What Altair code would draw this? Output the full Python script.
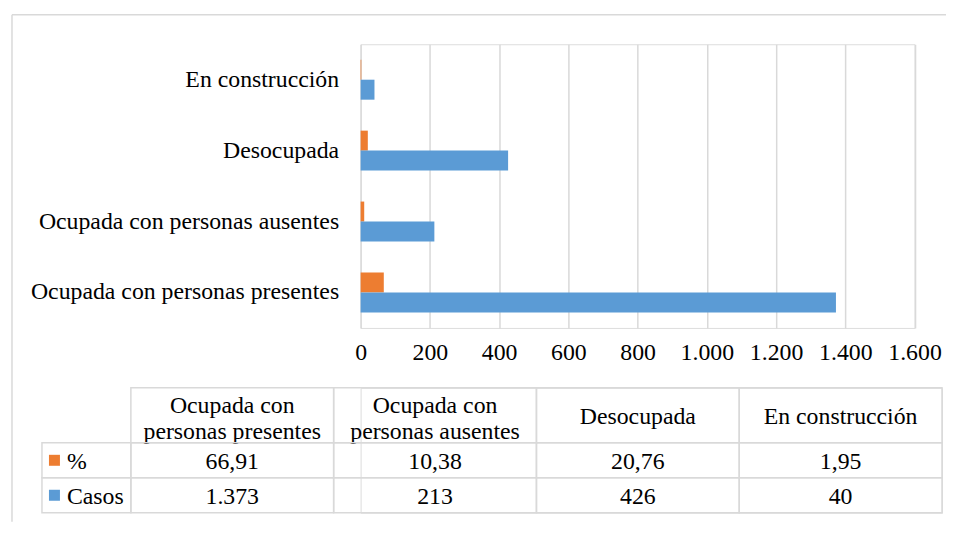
import altair as alt
import pandas as pd

# ---- data -------------------------------------------------------------
categories = [
    "Ocupada con personas presentes",
    "Ocupada con personas ausentes",
    "Desocupada",
    "En construcción",
]
header_labels = [
    "Ocupada con\npersonas presentes",
    "Ocupada con\npersonas ausentes",
    "Desocupada",
    "En construcción",
]
pct = [66.91, 10.38, 20.76, 1.95]
casos = [1373, 213, 426, 40]
series = ["%", "Casos"]
colors = ["#ED7D31", "#5B9BD5"]
x_ticks = [0, 200, 400, 600, 800, 1000, 1200, 1400, 1600]

FONT = "Liberation Serif, DejaVu Serif"
FS = 23.8
GRID = "#D9D9D9"
TXT = "#000000"

pct_txt = [f"{v:.2f}".replace(".", ",") for v in pct]
casos_txt = [f"{v:,}".replace(",", ".") for v in casos]

bars_df = pd.DataFrame({
    "cat": categories * 2,
    "serie": ["%"] * len(categories) + ["Casos"] * len(categories),
    "valor": pct + casos,
})
header_df = pd.DataFrame({"cat": categories, "texto": header_labels, "fila": ["h"] * len(categories)})
body_df = pd.DataFrame({
    "cat": categories * 2,
    "fila": ["%"] * len(categories) + ["Casos"] * len(categories),
    "texto": pct_txt + casos_txt,
})
label_df = pd.DataFrame({"col": ["lab"] * len(series), "fila": series})
frame_df = pd.DataFrame({"k": [0]})

# ---- bar chart --------------------------------------------------------
y_order = list(reversed(categories))

bars = alt.Chart(bars_df).mark_bar().encode(
    x=alt.X(
        "valor:Q",
        scale=alt.Scale(domain=[0, 1600], nice=False),
        axis=alt.Axis(
            values=x_ticks, title=None, grid=True, gridColor=GRID, gridWidth=1.5,
            domain=False, ticks=False, labelFont=FONT, labelFontSize=FS,
            labelColor=TXT, labelPadding=13, labelFlush=False,
            labelExpr="replace(format(datum.value, ','), ',', '.')",
        ),
    ),
    y=alt.Y(
        "cat:N", sort=y_order,
        scale=alt.Scale(paddingInner=0.4366, paddingOuter=0.2183),
        axis=alt.Axis(
            title=None, domain=False, ticks=False, labelFont=FONT, labelFontSize=FS,
            labelColor=TXT, labelPadding=22, labelLimit=0,
        ),
    ),
    yOffset=alt.YOffset("serie:N", sort=series),
    color=alt.Color("serie:N", scale=alt.Scale(domain=series, range=colors), legend=None),
)

frame_top = alt.Chart(frame_df).mark_rule(color=GRID, strokeWidth=1.5).encode(
    x=alt.value(-349), x2=alt.value(586), y=alt.value(-29.5)
)
frame_left = alt.Chart(frame_df).mark_rule(color=GRID, strokeWidth=1.5).encode(
    x=alt.value(-349), y=alt.value(-29.5), y2=alt.value(478)
)

bar_chart = alt.layer(frame_top, frame_left, bars).properties(width=554.5, height=284)

# ---- data table -------------------------------------------------------
def xcat():
    return alt.X(
        "cat:N", sort=categories,
        scale=alt.Scale(domain=categories, range=[-230, 582], paddingInner=0, paddingOuter=0),
        axis=None,
    )

def xlab():
    return alt.X(
        "col:N",
        scale=alt.Scale(domain=["lab"], range=[-319, -230], paddingInner=0, paddingOuter=0),
        axis=None,
    )

yhead = alt.Y("fila:N", scale=alt.Scale(domain=["h"], range=[0, 55], paddingInner=0, paddingOuter=0), axis=None)
ybody = alt.Y("fila:N", sort=series, scale=alt.Scale(domain=series, range=[55, 125], paddingInner=0, paddingOuter=0), axis=None)

cell = dict(fillOpacity=0, stroke=GRID, strokeWidth=1.5)
txt = dict(font=FONT, fontSize=FS, color=TXT)

header_rect = alt.Chart(header_df).mark_rect(**cell).encode(x=xcat(), y=yhead)
header_text2 = alt.Chart(header_df).transform_filter(
    "indexof(datum.texto, '\\n') >= 0"
).mark_text(lineBreak="\n", lineHeight=26, dy=-9.5, **txt).encode(x=xcat(), y=yhead, text="texto:N")
header_text1 = alt.Chart(header_df).transform_filter(
    "indexof(datum.texto, '\\n') < 0"
).mark_text(dy=1.5, **txt).encode(x=xcat(), y=yhead, text="texto:N")

body_rect = alt.Chart(body_df).mark_rect(**cell).encode(x=xcat(), y=ybody)
body_text = alt.Chart(body_df).mark_text(dy=1.5, **txt).encode(x=xcat(), y=ybody, text="texto:N")

label_rect = alt.Chart(label_df).mark_rect(**cell).encode(x=xlab(), y=ybody)
label_text = alt.Chart(label_df).mark_text(align="left", dx=-19.5, dy=1.5, **txt).encode(
    x=xlab(), y=ybody, text="fila:N"
)
label_swatch = alt.Chart(label_df).mark_rect(opacity=1).encode(
    x=alt.X("col:N", scale=alt.Scale(domain=["lab"], range=[-312, -301], paddingInner=0, paddingOuter=0), axis=None),
    y=alt.Y("fila:N", sort=series,
            scale=alt.Scale(domain=series, range=[55, 125], paddingInner=0.686, paddingOuter=0.343),
            axis=None),
    color=alt.Color("fila:N", scale=alt.Scale(domain=series, range=colors), legend=None),
)

table = alt.layer(
    header_rect, header_text2, header_text1, body_rect, body_text,
    label_rect, label_text, label_swatch,
).resolve_scale(x="independent", y="independent", color="independent").properties(width=582, height=125)

chart = alt.vconcat(bar_chart, table, spacing=60, bounds="flush").properties(
    padding={"left": 2, "top": 5, "right": 0, "bottom": 0},
    background="#ffffff",
).configure_view(strokeWidth=0).configure(font=FONT)

chart.save("out.html", embed_options={"renderer": "svg", "actions": False})
